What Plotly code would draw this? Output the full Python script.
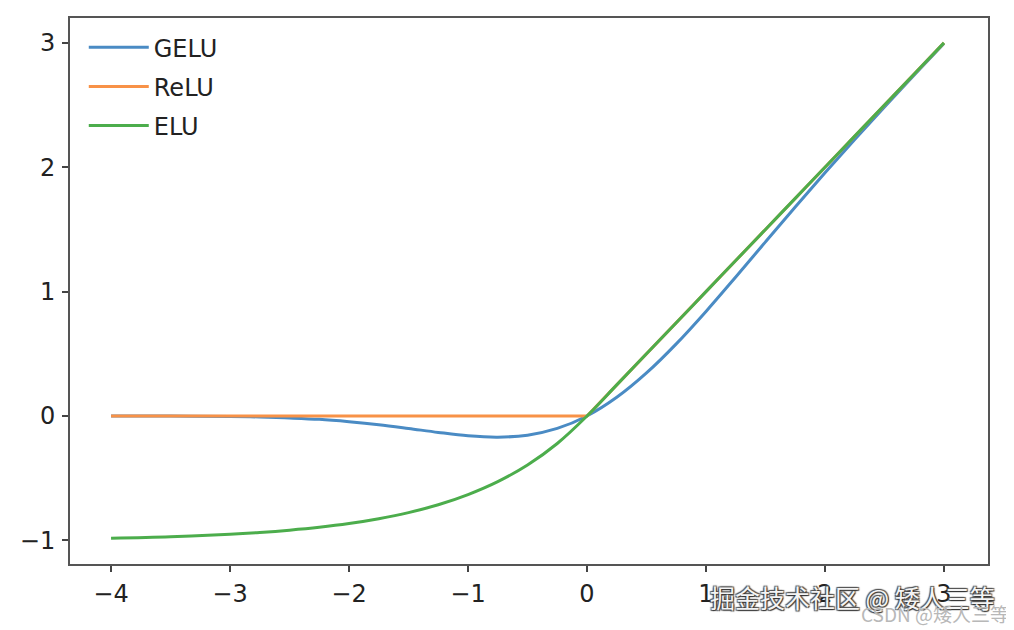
import plotly.graph_objects as go

# x sample points
x_vals = [-4, -3.5, -3, -2.75, -2.5, -2.25, -2, -1.75, -1.5, -1.25, -1, -0.75, -0.5, -0.25,
          0, 0.25, 0.5, 0.75, 1, 1.25, 1.5, 1.75, 2, 2.25, 2.5, 2.75, 3]

gelu_vals = [0.0, -0.001, -0.004, -0.008, -0.016, -0.027, -0.046, -0.070, -0.100, -0.132,
             -0.159, -0.170, -0.154, -0.100, 0.0, 0.150, 0.346, 0.580, 0.841, 1.118,
             1.400, 1.680, 1.955, 2.223, 2.485, 2.742, 2.996]

relu_vals = [0, 0, 0, 0, 0, 0, 0, 0, 0, 0, 0, 0, 0, 0,
             0, 0.25, 0.5, 0.75, 1, 1.25, 1.5, 1.75, 2, 2.25, 2.5, 2.75, 3]

elu_vals = [-0.982, -0.970, -0.950, -0.936, -0.918, -0.895, -0.865, -0.826, -0.777, -0.714,
            -0.632, -0.528, -0.394, -0.221, 0.0, 0.25, 0.5, 0.75, 1, 1.25, 1.5, 1.75, 2,
            2.25, 2.5, 2.75, 3]

series_names = ["GELU", "ReLU", "ELU"]
x_ticks = [-4, -3, -2, -1, 0, 1, 2, 3]
y_ticks = [-1, 0, 1, 2, 3]

colors = ["#4a8bc4", "#f89247", "#4cad4c"]

fig = go.Figure()
fig.add_trace(go.Scatter(x=x_vals, y=gelu_vals, mode="lines", name=series_names[0],
                         line=dict(color=colors[0], width=3, shape="spline"), legendgroup="a"))
fig.add_trace(go.Scatter(x=x_vals, y=relu_vals, mode="lines", name=series_names[1],
                         line=dict(color=colors[1], width=3), legendgroup="b"))
fig.add_trace(go.Scatter(x=x_vals, y=elu_vals, mode="lines", name=series_names[2],
                         line=dict(color=colors[2], width=3, shape="spline"), legendgroup="c"))

axis_common = dict(showline=True, mirror=True, linecolor="#555", linewidth=2,
                   ticks="outside", ticklen=6, tickwidth=1.5, tickcolor="#444",
                   showgrid=False, zeroline=False,
                   tickfont=dict(family="DejaVu Sans", size=24, color="#222"))

fig.update_layout(
    width=1006, height=622,
    margin=dict(l=62, r=26, t=8, b=66),
    paper_bgcolor="white", plot_bgcolor="white",
    xaxis=dict(range=[-4.345, 3.37], tickvals=x_ticks, ticklabelstandoff=1, **axis_common),
    yaxis=dict(range=[-1.19, 3.2], tickvals=y_ticks, ticklabelstandoff=2, **axis_common),
    legend=dict(x=0.015, y=0.987, xanchor="left", yanchor="top", bgcolor="rgba(0,0,0,0)",
                font=dict(family="DejaVu Sans", size=24, color="#222"),
                tracegroupgap=5, itemwidth=60),
    showlegend=True,
)

fig.add_annotation(text="掘金技术社区 @ 矮人三等", xref="paper", yref="paper",
                   x=(852 - 70) / 918, y=-(597 - 564) / 548, xanchor="center", yanchor="middle",
                   showarrow=False,
                   font=dict(family="Noto Sans CJK SC", size=25, color="#f4f4f4",
                             shadow="1px 1px 1px #333, -1px -1px 1px #555, 1px -1px 1px #555, -1px 1px 1px #555"))
fig.add_annotation(text="CSDN @矮人三等", xref="paper", yref="paper",
                   x=(935 - 70) / 918, y=-(614 - 564) / 548, xanchor="center", yanchor="middle",
                   showarrow=False,
                   font=dict(family="Noto Sans CJK SC", size=19, color="#b8b8b8"))

fig.write_html("out.html")
